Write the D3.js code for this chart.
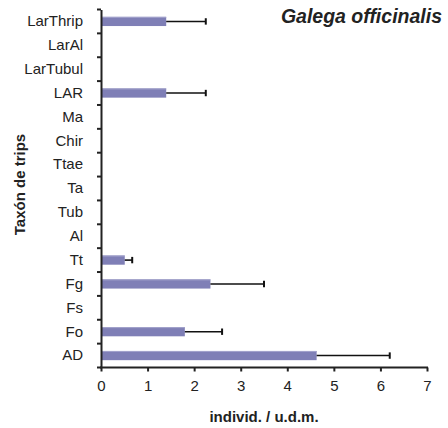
<!DOCTYPE html>
<html><head><meta charset="utf-8">
<script src="https://cdn.jsdelivr.net/npm/d3@7"></script>
<style>body{margin:0;background:#fff}svg{display:block}</style>
</head><body>
<svg id="chart" width="448" height="428"></svg>
<script>
const categories = ["LarThrip","LarAl","LarTubul","LAR","Ma","Chir","Ttae","Ta","Tub","Al","Tt","Fg","Fs","Fo","AD"];
const means = [1.40,0,0,1.40,0,0,0,0,0,0,0.51,2.35,0,1.80,4.63];
const errors = [0.85,0,0,0.85,0,0,0,0,0,0,0.16,1.15,0,0.80,1.57];
const xTicks = [0,1,2,3,4,5,6,7];
const title = "Galega officinalis";
const xTitle = "individ. / u.d.m.";
const yTitle = "Taxón de trips";

const svg = d3.select("#chart");
const mLeft = 101, mRight = 427, mTop = 9.5, mBottom = 367.5;
const x = d3.scaleLinear().domain([0,7]).range([mLeft,mRight]);
const y = d3.scaleBand().domain(categories).range([mTop,mBottom]).paddingInner(0).paddingOuter(0);
const font = "Arial, 'Liberation Sans', sans-serif";
const barH = 9.2;

const data = categories.map((c,i)=>({c, m:means[i], e:errors[i]}));

// bars
svg.append("g").selectAll("rect").data(data.filter(d=>d.m>0)).join("rect")
  .attr("x", x(0)).attr("y", d=>y(d.c)+y.bandwidth()/2-barH/2)
  .attr("width", d=>x(d.m)-x(0)).attr("height", barH)
  .attr("fill", "#7f7fb6");
svg.append("g").selectAll("line").data(data.filter(d=>d.m>0)).join("line")
  .attr("x1", x(0)).attr("x2", d=>x(d.m))
  .attr("y1", d=>y(d.c)+y.bandwidth()/2-barH/2+0.5).attr("y2", d=>y(d.c)+y.bandwidth()/2-barH/2+0.5)
  .attr("stroke", "#a4a4cc").attr("stroke-width",1);

// error bars
const eg = svg.append("g").attr("stroke","#111").attr("stroke-width",1.6);
data.filter(d=>d.e>0).forEach(d=>{
  const cy = y(d.c)+y.bandwidth()/2;
  eg.append("line").attr("x1",x(d.m)).attr("x2",x(d.m+d.e)).attr("y1",cy).attr("y2",cy);
  eg.append("line").attr("x1",x(d.m+d.e)).attr("x2",x(d.m+d.e)).attr("y1",cy-3.2).attr("y2",cy+3.2).attr("stroke-width",2);
});

// y axis
const yAxis = d3.axisLeft(y).tickSize(0).tickPadding(18);
const gy = svg.append("g").attr("transform",`translate(${mLeft},0)`).call(yAxis);
gy.select(".domain").attr("stroke","#222").attr("stroke-width",2);
gy.selectAll("text").attr("font-family",font).attr("font-size",15).attr("fill","#222");
// y boundary ticks
const bounds = d3.range(categories.length+1).map(i=>mTop+i*y.bandwidth());
svg.append("g").selectAll("line").data(bounds).join("line")
  .attr("x1",mLeft-4).attr("x2",mLeft).attr("y1",d=>d).attr("y2",d=>d)
  .attr("stroke","#222").attr("stroke-width",2);

// x axis
const xAxis = d3.axisBottom(x).tickValues(xTicks).tickSize(4).tickPadding(9).tickFormat(d3.format("d"));
const gx = svg.append("g").attr("transform",`translate(0,${mBottom})`).call(xAxis);
gx.select(".domain").attr("stroke","#222").attr("stroke-width",2).attr("d",`M${mLeft-1},0H${mRight+1}`);
gx.selectAll(".tick line").attr("stroke","#222").attr("stroke-width",2);
gx.selectAll("text").attr("font-family",font).attr("font-size",15).attr("fill","#222");

// titles
svg.append("text").attr("x",442).attr("y",22.5).attr("text-anchor","end")
  .attr("font-family",font).attr("font-size",19.5).attr("font-weight","bold").attr("font-style","italic")
  .attr("fill","#222").text(title);
svg.append("text").attr("x",(mLeft+mRight)/2).attr("y",421.5).attr("text-anchor","middle")
  .attr("font-family",font).attr("font-size",15).attr("font-weight","bold").attr("fill","#222").text(xTitle);
svg.append("text").attr("transform",`translate(25,${(mTop+mBottom)/2-4}) rotate(-90)`).attr("text-anchor","middle")
  .attr("font-family",font).attr("font-size",15).attr("font-weight","bold").attr("fill","#222").text(yTitle);
</script>
</body></html>
